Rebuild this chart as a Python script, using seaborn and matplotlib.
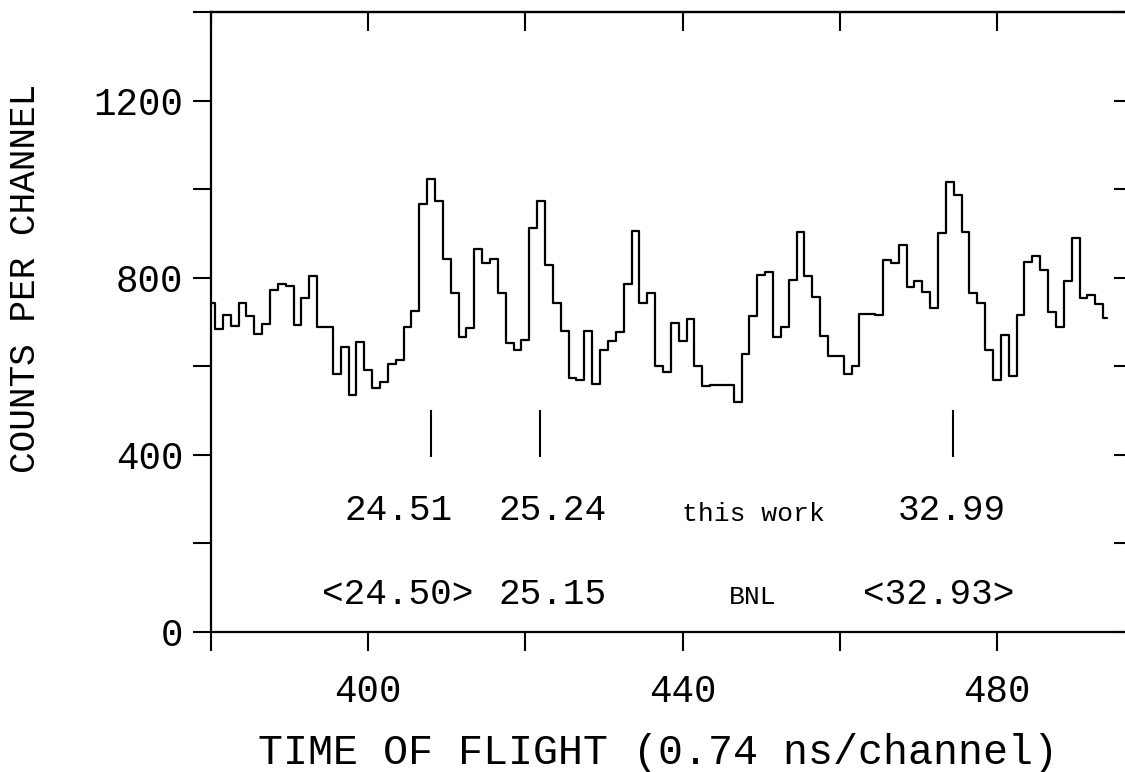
import matplotlib
matplotlib.use("Agg")
import matplotlib.pyplot as plt
import seaborn as sns
import pandas as pd
from matplotlib.ticker import FixedLocator, FuncFormatter

# ---- data ----
channels = list(range(380, 495))
counts = [744,
          684, 716, 691, 744, 714, 673, 695, 774, 786, 782,
          694, 754, 805, 689, 689, 583, 643, 536, 655, 592,
          551, 564, 605, 615, 690, 726, 967, 1023, 975, 844,
          767, 666, 686, 865, 833, 842, 767, 652, 637, 661,
          914, 974, 829, 744, 681, 573, 569, 680, 560, 637,
          658, 679, 786, 907, 744, 765, 600, 588, 698, 658,
          707, 601, 555, 559, 559, 559, 520, 628, 713, 807,
          814, 667, 690, 795, 905, 805, 756, 670, 624, 624,
          583, 600, 719, 718, 716, 841, 835, 875, 779, 793,
          768, 733, 901, 1018, 988, 905, 765, 744, 637, 569,
          671, 579, 716, 837, 850, 818, 724, 689, 794, 890,
          754, 762, 741,
          709]

marker_x = [408.0, 421.9, 474.4]
marker_lo, marker_hi = 395, 502

row1_labels = ["24.51", "25.24", "32.99"]
row1_x = [403.9, 423.4, 474.2]
row2_labels = ["<24.50>", "25.15", "<32.93>"]
row2_x = [403.7, 423.4, 472.6]
tag_labels = ["this work", "BNL"]
tag_x = [449.0, 448.9]

x_ticks = list(range(380, 501, 20))
x_ticklabels = {400: "400", 440: "440", 480: "480"}
y_ticks = list(range(0, 1401, 200))
y_ticklabels = {0: "0", 400: "400", 800: "800", 1200: "1200"}

# ---- styling ----
sns.set_style("white")
plt.rcParams["font.family"] = ["Liberation Mono", "DejaVu Sans Mono", "DejaVu Sans"]
plt.rcParams["text.color"] = "black"
plt.rcParams["axes.labelcolor"] = "black"
plt.rcParams["xtick.color"] = "black"
plt.rcParams["ytick.color"] = "black"

fig = plt.figure(figsize=(11.25, 7.72), dpi=100)
ax = fig.add_axes([0.18756, 0.18135, 0.81742, 0.80246])

df = pd.DataFrame({"channel": channels, "counts": counts})
sns.lineplot(data=df, x="channel", y="counts", drawstyle="steps-mid",
             color="black", linewidth=1.6, ax=ax)

ax.vlines(marker_x, marker_lo, marker_hi, color="black", linewidth=1.5)

for lab, x in zip(row1_labels, row1_x):
    ax.text(x, 253, lab, ha="center", va="baseline", fontsize=26, color="black")
for lab, x in zip(row2_labels, row2_x):
    ax.text(x, 63, lab, ha="center", va="baseline", fontsize=26, color="black")
ax.text(tag_x[0], 250, tag_labels[0], ha="center", va="baseline", fontsize=19, color="black")
ax.text(tag_x[1], 63, tag_labels[1], ha="center", va="baseline", fontsize=19, color="black")

ax.set_xlim(380, 497)
ax.set_ylim(0, 1400)

for s in ax.spines.values():
    s.set_visible(True)
    s.set_color("black")
    s.set_linewidth(1.6)

ax.xaxis.set_major_locator(FixedLocator(x_ticks))
ax.xaxis.set_major_formatter(FuncFormatter(lambda v, p: x_ticklabels.get(int(round(v)), "")))
ax.yaxis.set_major_locator(FixedLocator(y_ticks))
ax.yaxis.set_major_formatter(FuncFormatter(lambda v, p: y_ticklabels.get(int(round(v)), "")))

ax.tick_params(axis="x", direction="out", length=13.5, width=1.5, pad=17,
               labelsize=27, bottom=True, top=False, colors="black")
ax.tick_params(axis="y", direction="out", length=13, width=1.5, pad=7,
               labelsize=27, left=True, right=False, colors="black")

secx = ax.secondary_xaxis("top")
secx.xaxis.set_major_locator(FixedLocator(x_ticks))
secx.tick_params(axis="x", direction="in", length=14, width=1.5, labeltop=False)
secx.spines["top"].set_linewidth(1.6)

secy = ax.secondary_yaxis("right")
secy.yaxis.set_major_locator(FixedLocator(y_ticks))
secy.tick_params(axis="y", direction="in", length=12, width=1.5, labelright=False)
secy.spines["right"].set_linewidth(1.6)

ax.set_xlabel("TIME OF FLIGHT (0.74 ns/channel)", fontsize=30, color="black")
ax.set_ylabel("COUNTS PER CHANNEL", fontsize=26, color="black")
ax.xaxis.set_label_coords(0.4861, -0.2130)
ax.xaxis.label.set_va("baseline")
ax.yaxis.set_label_coords(-0.2012, 0.5714)
ax.yaxis.label.set_va("center")

fig.savefig("out.png", dpi=100)
